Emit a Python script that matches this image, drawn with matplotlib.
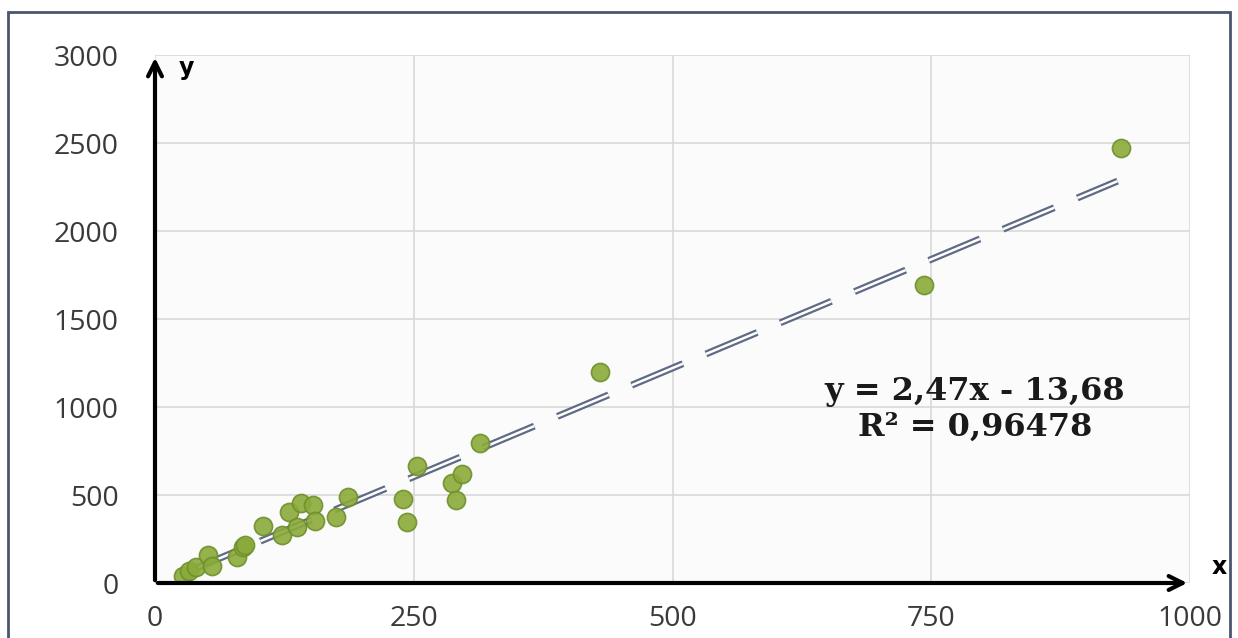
import matplotlib.pyplot as plt
import matplotlib.patches as mpatches
import numpy as np

# values
x_vals = [27, 33, 40, 51, 55, 79, 85, 87, 104, 123, 129, 137, 141, 153, 155,
          175, 186, 240, 243, 253, 287, 291, 297, 314, 430, 743, 933]
y_vals = [40, 70, 90, 159, 95, 150, 204, 215, 323, 272, 403, 318, 454, 443, 352,
          375, 488, 477, 346, 664, 567, 471, 619, 795, 1197, 1691, 2469]

slope = 2.47
intercept = -13.68
trend_x = [30, 930]
eq_lines = ['y = 2,47x - 13,68', 'R² = 0,96478']

xticks = [0, 250, 500, 750, 1000]
yticks = [0, 500, 1000, 1500, 2000, 2500, 3000]

plt.rcParams['lines.scale_dashes'] = False
plt.rcParams['font.family'] = ['Open Sans', 'DejaVu Sans']

fig = plt.figure(figsize=(12.38, 6.38), dpi=100)
fig.patch.set_facecolor('white')
ax = fig.add_axes([155 / 1238, 55 / 638, 1035 / 1238, 528 / 638])
ax.set_facecolor('#fbfbfb')

# outer frame
fig.patches.append(mpatches.Rectangle((8 / 1238, -0.01), 1222 / 1238, 1 - 12 / 638 + 0.01,
                                      transform=fig.transFigure, fill=False,
                                      edgecolor='#4a5670', linewidth=2))

ax.set_xlim(0, 1000)
ax.set_ylim(0, 3000)
ax.set_xticks(xticks)
ax.set_yticks(yticks)
ax.grid(True, color='#d9d9d9', linewidth=1.2)
ax.set_axisbelow(True)
for s in ax.spines.values():
    s.set_visible(False)
ax.tick_params(length=0, labelsize=20.5, labelcolor='#3a3a3a')
ax.tick_params(axis='y', pad=26)
ax.tick_params(axis='x', pad=16)

# trendline (double dashed)
tx = np.array(trend_x, dtype=float)
ty = slope * tx + intercept
ax.plot(tx, ty, color='#5f6b85', linewidth=5, dashes=(40, 18), dash_capstyle='butt', zorder=3)
ax.plot(tx, ty, color='white', linewidth=1.8, dashes=(40, 18), dash_capstyle='butt', zorder=3)

ax.scatter(x_vals, y_vals, s=170, color='#8aaa3a', edgecolor='#6e8f2a', linewidth=1.2,
           alpha=0.9, zorder=4)

# axes with arrows
arrow = dict(arrowstyle='->,head_length=1.0,head_width=0.5', lw=3, color='black')
ax.annotate('', xy=(1000, 0), xytext=(0, 0), arrowprops=arrow, annotation_clip=False, zorder=5)
ax.annotate('', xy=(0, 3000), xytext=(0, 0), arrowprops=arrow, annotation_clip=False, zorder=5)
ax.text(30, 2925, 'y', fontsize=17, fontweight='bold', ha='center', va='center',
        family='DejaVu Sans')
ax.text(1028, 91, 'x', fontsize=17, fontweight='bold', ha='center', va='center',
        family='DejaVu Sans', clip_on=False)

ax.text(792, 1090, eq_lines[0], fontsize=23, fontweight='bold', family='DejaVu Serif',
        ha='center', va='center', color='#1a1a1a', zorder=6)
ax.text(792, 885, eq_lines[1], fontsize=23, fontweight='bold', family='DejaVu Serif',
        ha='center', va='center', color='#1a1a1a', zorder=6)

plt.savefig('out.png', dpi=100)
